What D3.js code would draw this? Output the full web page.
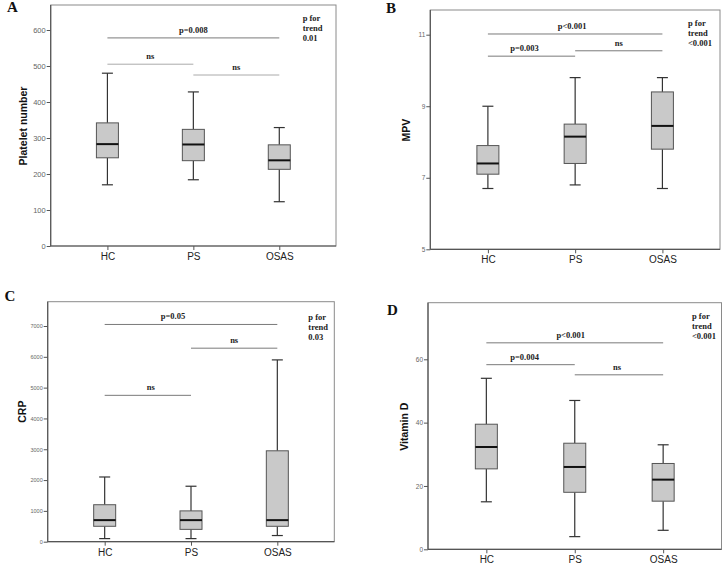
<!DOCTYPE html>
<html><head><meta charset="utf-8">
<script src="https://cdn.jsdelivr.net/npm/d3@7"></script>
<style>body{margin:0;background:#fff}svg{display:block}</style>
</head><body><svg id="chart" width="723" height="567"></svg>
<script>
const groups = ["HC", "PS", "OSAS"];
// five-number summaries per group: [min, q1, median, q3, max]
const plateletStats = [[170, 245, 283, 342, 480], [184, 237, 282, 324, 428], [123, 213, 238, 281, 329]];
const mpvStats = [[6.7, 7.1, 7.4, 7.9, 9.0], [6.8, 7.4, 8.15, 8.5, 9.8], [6.7, 7.8, 8.45, 9.4, 9.8]];
const crpStats = [[100, 500, 700, 1200, 2100], [100, 400, 700, 1000, 1800], [200, 500, 700, 2950, 5900]];
const vitaminDStats = [[15, 25.4, 32.3, 39.5, 54], [4, 18, 26, 33.5, 47], [6, 15.2, 22, 27.1, 33]];

const plateletTicks = [0, 100, 200, 300, 400, 500, 600];
const mpvTicks = [5, 7, 9, 11];
const crpTicks = [0, 1000, 2000, 3000, 4000, 5000, 6000, 7000];
const vitaminDTicks = [0, 20, 40, 60];

const plateletBrackets = [["HC", "OSAS", 578, "p=0.008"], ["HC", "PS", 505, "ns"], ["PS", "OSAS", 475, "ns"]];
const mpvBrackets = [["HC", "OSAS", 11.02, "p<0.001"], ["HC", "PS", 10.4, "p=0.003"], ["PS", "OSAS", 10.55, "ns"]];
const crpBrackets = [["HC", "OSAS", 7050, "p=0.05"], ["PS", "OSAS", 6280, "ns"], ["HC", "PS", 4750, "ns"]];
const vitaminDBrackets = [["HC", "OSAS", 65.2, "p<0.001"], ["HC", "PS", 58.3, "p=0.004"], ["PS", "OSAS", 55.1, "ns"]];

const plateletTrend = ["p for", "trend", "0.01"];
const mpvTrend = ["p for", "trend", "<0.001"];
const crpTrend = ["p for", "trend", "0.03"];
const vitaminDTrend = ["p for", "trend", "<0.001"];

const panelLetters = ["A", "B", "C", "D"];
const yTitles = ["Platelet number", "MPV", "CRP", "Vitamin D"];

// layout (pixels) for each panel
const layouts = [
  {left: 50.7, top: 5, right: 336, bottom: 246, topTickPx: 30, letter: [12.5, 12], yTitle: [22.7, 126], tickFont: 7.5, trend: [302.7, 20.5], labelDx: [0, 0, 0]},
  {left: 430.3, top: 10, right: 720, bottom: 249.3, topTickPx: 34.7, letter: [391, 13.3], yTitle: [406, 130], tickFont: 6.5, trend: [688, 26], labelDx: [-3, -7, 0]},
  {left: 47.7, top: 301.7, right: 334.3, bottom: 541.7, topTickPx: 326, letter: [10, 300.7], yTitle: [21.7, 411.7], tickFont: 5.5, trend: [308.3, 319.5], labelDx: [-18, 0, 3]},
  {left: 428, top: 302.7, right: 721.5, bottom: 549.3, topTickPx: 359.3, letter: [392.5, 315], yTitle: [403.7, 426.7], tickFont: 6.5, trend: [692, 319], labelDx: [-4, -6, -2]}
];

const statsList = [plateletStats, mpvStats, crpStats, vitaminDStats];
const ticksList = [plateletTicks, mpvTicks, crpTicks, vitaminDTicks];
const bracketsList = [plateletBrackets, mpvBrackets, crpBrackets, vitaminDBrackets];
const trendList = [plateletTrend, mpvTrend, crpTrend, vitaminDTrend];

const svg = d3.select("#chart");
const serif = "'Liberation Serif','Times New Roman',serif";
const sans = "'Liberation Sans',Arial,sans-serif";

layouts.forEach((L, i) => {
  const stats = statsList[i], ticks = ticksList[i];
  const g = svg.append("g");
  const x = d3.scalePoint().domain(groups).range([L.left, L.right]).padding(0.66);
  const y = d3.scaleLinear().domain([ticks[0], ticks[ticks.length - 1]]).range([L.bottom, L.topTickPx]);

  // frame
  g.append("rect").attr("x", L.left).attr("y", L.top)
    .attr("width", L.right - L.left).attr("height", L.bottom - L.top)
    .attr("fill", "none").attr("stroke", "#8a8a8a").attr("stroke-width", 1);
  g.append("line").attr("x1", L.left).attr("x2", L.left).attr("y1", L.top).attr("y2", L.bottom)
    .attr("stroke", "#555").attr("stroke-width", 1.2);
  g.append("line").attr("x1", L.left).attr("x2", L.right).attr("y1", L.bottom).attr("y2", L.bottom)
    .attr("stroke", "#555").attr("stroke-width", 1.2);

  // y axis
  const ya = g.append("g").attr("transform", `translate(${L.left},0)`)
    .call(d3.axisLeft(y).tickValues(ticks).tickSize(4).tickSizeOuter(0).tickPadding(1).tickFormat(d3.format("d")));
  ya.select(".domain").remove();
  ya.selectAll("line").attr("stroke", "#555");
  ya.selectAll("text").attr("font-family", sans).attr("font-size", L.tickFont).attr("fill", "#666");

  // x axis
  const xa = g.append("g").attr("transform", `translate(0,${L.bottom})`)
    .call(d3.axisBottom(x).tickSize(4).tickSizeOuter(0).tickPadding(3));
  xa.select(".domain").remove();
  xa.selectAll("line").attr("stroke", "#555");
  xa.selectAll("text").attr("font-family", sans).attr("font-size", 10).attr("fill", "#222");

  // boxes
  const bw = 22, cw = 11;
  groups.forEach((grp, k) => {
    const [mn, q1, md, q3, mx] = stats[k];
    const cx = x(grp);
    const bg = g.append("g");
    bg.append("line").attr("x1", cx).attr("x2", cx).attr("y1", y(mx)).attr("y2", y(q3))
      .attr("stroke", "#333").attr("stroke-width", 1.2);
    bg.append("line").attr("x1", cx).attr("x2", cx).attr("y1", y(q1)).attr("y2", y(mn))
      .attr("stroke", "#333").attr("stroke-width", 1.2);
    bg.append("line").attr("x1", cx - cw / 2).attr("x2", cx + cw / 2).attr("y1", y(mx)).attr("y2", y(mx))
      .attr("stroke", "#333").attr("stroke-width", 1.2);
    bg.append("line").attr("x1", cx - cw / 2).attr("x2", cx + cw / 2).attr("y1", y(mn)).attr("y2", y(mn))
      .attr("stroke", "#333").attr("stroke-width", 1.2);
    bg.append("rect").attr("x", cx - bw / 2).attr("y", y(q3)).attr("width", bw).attr("height", y(q1) - y(q3))
      .attr("fill", "#c9c9c9").attr("stroke", "#555").attr("stroke-width", 1);
    bg.append("line").attr("x1", cx - bw / 2).attr("x2", cx + bw / 2).attr("y1", y(md)).attr("y2", y(md))
      .attr("stroke", "#111").attr("stroke-width", 2);
  });

  // brackets
  bracketsList[i].forEach(([a, b, yv, label], j) => {
    const x1 = x(a), x2 = x(b), yy = y(yv);
    g.append("line").attr("x1", x1).attr("x2", x2).attr("y1", yy).attr("y2", yy)
      .attr("stroke", label === "ns" && i === 0 ? "#aaa" : "#7a7a7a").attr("stroke-width", 1);
    g.append("text").attr("x", (x1 + x2) / 2 + L.labelDx[j]).attr("y", yy - 5)
      .attr("text-anchor", "middle").attr("font-family", serif).attr("font-weight", "bold")
      .attr("font-size", 8.5).attr("fill", "#222").text(label);
  });

  // trend text
  trendList[i].forEach((t, j) => {
    g.append("text").attr("x", L.trend[0]).attr("y", L.trend[1] + j * 10)
      .attr("font-family", serif).attr("font-weight", "bold").attr("font-size", 8.5).attr("fill", "#222").text(t);
  });

  // panel letter
  g.append("text").attr("x", L.letter[0]).attr("y", L.letter[1]).attr("text-anchor", "middle")
    .attr("font-family", serif).attr("font-weight", "bold").attr("font-size", 15).attr("fill", "#111").text(panelLetters[i]);

  // y title
  g.append("text").attr("transform", `translate(${L.yTitle[0]},${L.yTitle[1]}) rotate(-90)`)
    .attr("text-anchor", "middle").attr("dominant-baseline", "central")
    .attr("font-family", sans).attr("font-weight", "bold").attr("font-size", 10.5).attr("fill", "#111").text(yTitles[i]);
});
</script></body></html>
